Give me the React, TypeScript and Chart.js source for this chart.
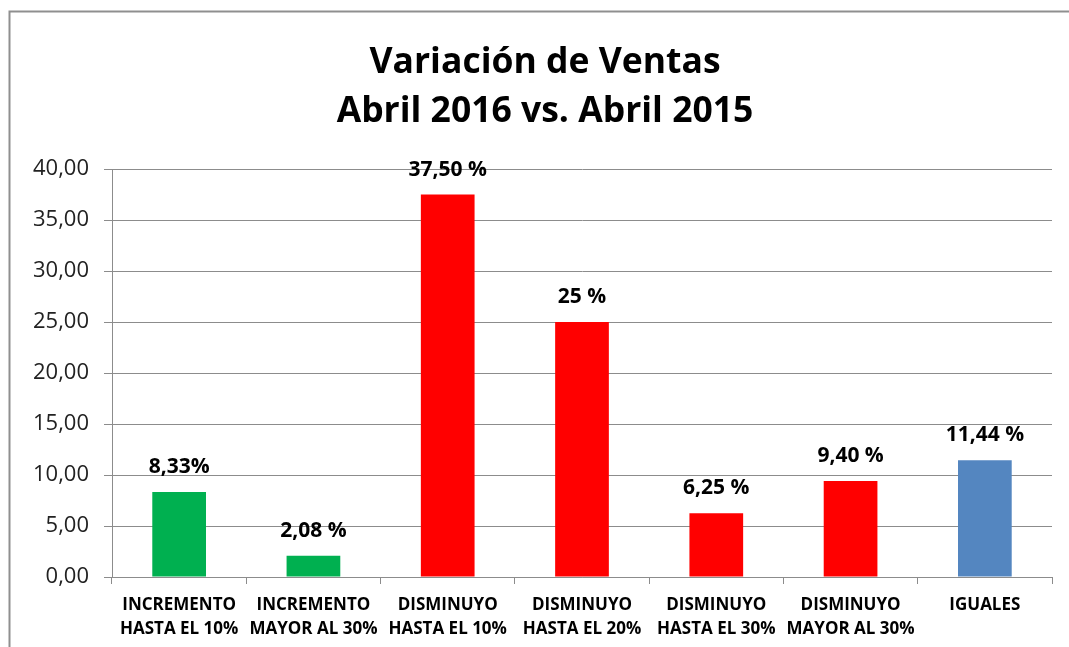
import React, { useEffect, useRef } from "react";
import { Chart, registerables } from "chart.js";

Chart.register(...registerables);

const titleLines = ["Variación de Ventas", "Abril 2016 vs. Abril 2015"];
const categories = [
  ["INCREMENTO", "HASTA EL 10%"],
  ["INCREMENTO", "MAYOR AL 30%"],
  ["DISMINUYO", "HASTA EL 10%"],
  ["DISMINUYO", "HASTA EL 20%"],
  ["DISMINUYO", "HASTA EL 30%"],
  ["DISMINUYO", "MAYOR AL 30%"],
  ["IGUALES"],
];
const values = [8.33, 2.08, 37.5, 25, 6.25, 9.4, 11.44];
const valueLabels = ["8,33%", "2,08 %", "37,50 %", "25 %", "6,25 %", "9,40 %", "11,44 %"];
const barColors = ["#00B050", "#00B050", "#FF0000", "#FF0000", "#FF0000", "#FF0000", "#5486C0"];

const FONT = "'Open Sans', Lato, sans-serif";

const framePlugin = {
  id: "frame",
  beforeDraw(chart: any) {
    const ctx = chart.ctx;
    ctx.save();
    ctx.fillStyle = "#ffffff";
    ctx.fillRect(0, 0, chart.width, chart.height);
    ctx.strokeStyle = "#8f8f8f";
    ctx.lineWidth = 2;
    ctx.strokeRect(9.5, 11.5, chart.width + 20, chart.height + 20);
    ctx.restore();
  },
};

const titlePlugin = {
  id: "customTitle",
  afterDraw(chart: any) {
    const ctx = chart.ctx;
    ctx.save();
    ctx.fillStyle = "#000000";
    ctx.font = `bold 35.5px ${FONT}`;
    ctx.textAlign = "center";
    ctx.textBaseline = "alphabetic";
    ctx.fillText(titleLines[0], 545, 73);
    ctx.fillText(titleLines[1], 545, 122);
    ctx.restore();
  },
};

const valueLabelPlugin = {
  id: "valueLabels",
  afterDatasetsDraw(chart: any) {
    const ctx = chart.ctx;
    const meta = chart.getDatasetMeta(0);
    ctx.save();
    ctx.fillStyle = "#000000";
    ctx.font = `bold 21px ${FONT}`;
    ctx.textAlign = "center";
    ctx.textBaseline = "alphabetic";
    meta.data.forEach((bar: any, i: number) => {
      ctx.fillText(valueLabels[i], bar.x, bar.y - 19);
    });
    ctx.restore();
  },
};

export default function App() {
  const ref = useRef<HTMLCanvasElement | null>(null);
  useEffect(() => {
    if (!ref.current) return;
    const chart = new Chart(ref.current, {
      type: "bar",
      data: {
        labels: categories,
        datasets: [
          {
            data: values,
            backgroundColor: barColors,
            borderWidth: 0,
            barPercentage: 0.8,
            categoryPercentage: 0.5,
          },
        ],
      },
      options: {
        animation: false,
        responsive: false,
        maintainAspectRatio: false,
        layout: { padding: { top: 169, right: 17, bottom: 0, left: 0 } },
        plugins: {
          legend: { display: false },
          title: { display: false },
          tooltip: { enabled: false },
        },
        scales: {
          x: {
            grid: {
              drawOnChartArea: false,
              drawTicks: true,
              tickLength: 7,
              color: "#8c8c8c",
              offset: true,
            },
            border: { color: "#8c8c8c", width: 1 },
            ticks: {
              color: "#000000",
              font: { family: FONT, size: 17, weight: "bold", lineHeight: 1.41 },
              padding: 9,
              maxRotation: 0,
              autoSkip: false,
            },
            afterFit(scale: any) {
              scale.height = 70;
            },
          },
          y: {
            min: 0,
            max: 40,
            grid: { color: "#8c8c8c", tickLength: 8 },
            border: { color: "#8c8c8c", width: 1 },
            ticks: {
              stepSize: 5,
              color: "#222222",
              font: { family: FONT, size: 22 },
              padding: 15,
              callback: (v: any) => Number(v).toFixed(2).replace(".", ","),
            },
            afterFit(scale: any) {
              scale.width = 112;
            },
          },
        },
      },
      plugins: [framePlugin, titlePlugin, valueLabelPlugin],
    });
    return () => chart.destroy();
  }, []);
  return (
    <div style={{ position: "fixed", left: 0, top: 0, width: 1069, height: 647 }}>
      <canvas ref={ref} width={1069} height={647} style={{ display: "block" }} />
    </div>
  );
}
